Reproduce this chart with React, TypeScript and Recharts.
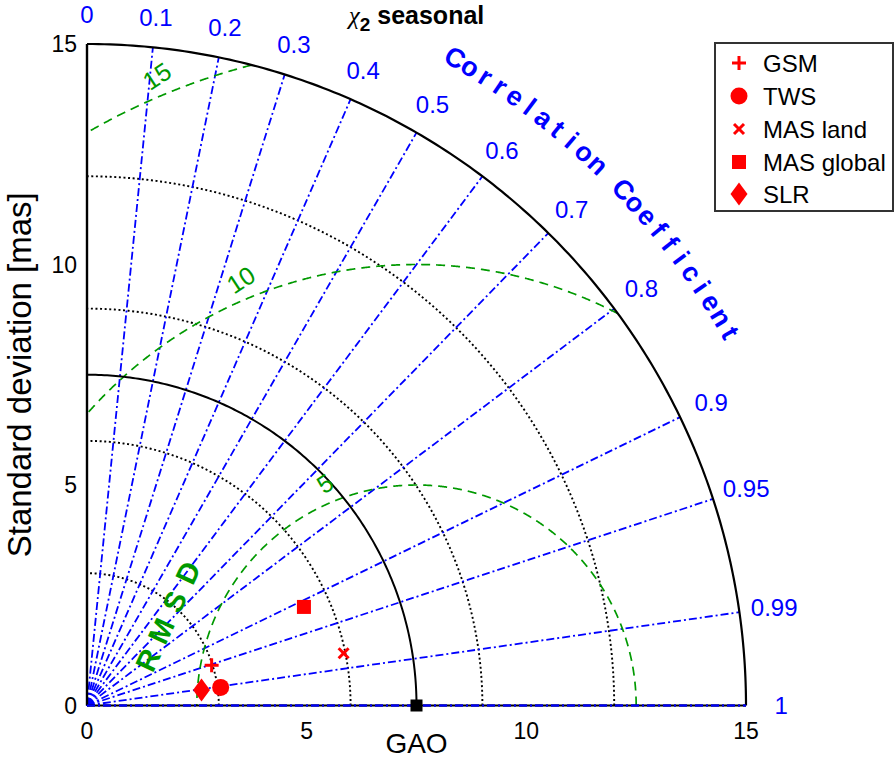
import React from "react";
import { ScatterChart, Scatter, XAxis, YAxis, ReferenceDot } from "recharts";

const W = 896;
const H = 759;
const FONT = "'Liberation Sans', Arial, sans-serif";
const BLUE = "#0000ff";
const GREEN = "#009900";
const RED = "#ff0000";

// correlation grid
const corrTicks = [0, 0.1, 0.2, 0.3, 0.4, 0.5, 0.6, 0.7, 0.8, 0.9, 0.95, 0.99, 1];
const corrLabels = ["0", "0.1", "0.2", "0.3", "0.4", "0.5", "0.6", "0.7", "0.8", "0.9", "0.95", "0.99", "1"];

// standard deviation grid
const stdTicks = [0, 5, 10, 15];
const stdMax = 15;
const refStd = 7.5;
const dottedRings = [3, 6, 9, 12];

// centred RMS difference circles
const rmsRings = [5, 10, 15];
const rmsLabels = ["5", "10", "15"];

// models
const modelNames = ["GSM", "TWS", "MAS land", "MAS global", "SLR"];
const modelStd = [2.98, 3.07, 5.96, 5.42, 2.63];
const modelCorr = [0.952, 0.991, 0.98, 0.911, 0.991];
const modelMarkers = ["plus", "circle", "cross", "square", "diamond"];

const clamp = (v: number) => Math.min(stdMax, Math.max(0, v));
const rad = (d: number) => (d * Math.PI) / 180;

const polar = (r: number, c: number) => ({
  x: clamp(r * c),
  y: clamp(r * Math.sqrt(Math.max(0, 1 - c * c))),
});

function stdArc(r: number) {
  const pts = [];
  for (let d = 0; d <= 90; d += 0.5) {
    pts.push({ x: clamp(r * Math.cos(rad(d))), y: clamp(r * Math.sin(rad(d))) });
  }
  return pts;
}

function rmsArc(r: number) {
  const pts = [];
  for (let d = 0; d <= 180; d += 0.1) {
    const x = refStd + r * Math.cos(rad(d));
    const y = r * Math.sin(rad(d));
    if (x >= 0 && x * x + y * y <= stdMax * stdMax) pts.push({ x, y: clamp(y) });
  }
  return pts;
}

const ray = (c: number) => [{ x: 0, y: 0 }, polar(stdMax, c)];

const Marker = ({ kind, cx, cy }: { kind: string; cx: number; cy: number }) => {
  switch (kind) {
    case "plus":
      return (
        <g stroke={RED} strokeWidth={3}>
          <line x1={cx - 7} y1={cy} x2={cx + 7} y2={cy} />
          <line x1={cx} y1={cy - 7} x2={cx} y2={cy + 7} />
        </g>
      );
    case "circle":
      return <circle cx={cx} cy={cy} r={8.5} fill={RED} />;
    case "cross":
      return (
        <g stroke={RED} strokeWidth={3}>
          <line x1={cx - 5} y1={cy - 5} x2={cx + 5} y2={cy + 5} />
          <line x1={cx - 5} y1={cy + 5} x2={cx + 5} y2={cy - 5} />
        </g>
      );
    case "square":
      return <rect x={cx - 7} y={cy - 7} width={14} height={14} fill={RED} />;
    case "diamond":
      return (
        <polygon
          points={`${cx},${cy - 11.5} ${cx + 8.5},${cy} ${cx},${cy + 11.5} ${cx - 8.5},${cy}`}
          fill={RED}
        />
      );
    default:
      return <rect x={cx - 6} y={cy - 6} width={12} height={12} fill="#000" />;
  }
};

const noDot = () => <g />;

const txt = (s: string, color: string, size: number, rot = 0, bold = false) => (p: any) =>
  (
    <text
      x={p.cx}
      y={p.cy}
      fill={color}
      fontSize={size}
      fontFamily={FONT}
      fontWeight={bold ? "bold" : "normal"}
      textAnchor="middle"
      dominantBaseline="central"
      transform={rot ? `rotate(${rot}, ${p.cx}, ${p.cy})` : undefined}
    >
      {s}
    </text>
  );

// label layout
const ccText = "Correlation Coefficient";
const ccR = 16.9;
const ccFrom = 60.3;
const ccTo = 30.0;
const rmsdText = "RMSD";
const rmsdFrom = { x: 1.39, y: 1.03 };
const rmsdTo = { x: 2.3, y: 3.01 };
const rmsLabelAngle = 112.5;

const dotted = { stroke: "#000", strokeWidth: 1.9, strokeDasharray: "2 2.6" };
const dashDot = { stroke: BLUE, strokeWidth: 1.8, strokeDasharray: "8 3 2 3" };
const dashed = { stroke: GREEN, strokeWidth: 1.7, strokeDasharray: "9 6" };

export default function App() {
  const legendRows = [63, 96, 129, 162, 194];
  return (
    <div style={{ position: "absolute", left: 0, top: 0, width: W, height: H, background: "#fff" }}>
      <ScatterChart width={W} height={H} margin={{ top: 44, right: 150, bottom: 0, left: 0 }}>
        <XAxis
          type="number"
          dataKey="x"
          domain={[0, 15]}
          ticks={stdTicks}
          axisLine={false}
          tickLine={false}
          tickSize={8}
          tickMargin={9}
          height={53.5}
          tick={{ fontSize: 23, fill: "#000", fontFamily: FONT }}
          label={{ value: "GAO", position: "insideBottom", offset: 6, fontSize: 28, fill: "#000", fontFamily: FONT }}
        />
        <YAxis
          type="number"
          dataKey="y"
          domain={[0, 15]}
          ticks={stdTicks}
          axisLine={false}
          tickLine={false}
          tickSize={4}
          tickMargin={6}
          width={87}
          tick={{ fontSize: 23, fill: "#000", fontFamily: FONT }}
          label={{
            value: "Standard deviation [mas]",
            angle: -90,
            position: "insideLeft",
            offset: 19,
            style: { textAnchor: "middle" },
            fontSize: 33,
            fill: "#000",
            fontFamily: FONT,
          }}
        />

        {dottedRings.map((r) => (
          <Scatter key={"d" + r} data={stdArc(r)} line={dotted} shape={noDot} isAnimationActive={false} />
        ))}

        {corrTicks.slice(1).map((c) => (
          <Scatter key={"c" + c} data={ray(c)} line={dashDot} shape={noDot} isAnimationActive={false} />
        ))}

        {rmsRings.map((r) => (
          <Scatter key={"r" + r} data={rmsArc(r)} line={dashed} shape={noDot} isAnimationActive={false} />
        ))}

        <Scatter data={stdArc(refStd)} line={{ stroke: "#000", strokeWidth: 2 }} shape={noDot} isAnimationActive={false} />
        <Scatter data={stdArc(stdMax)} line={{ stroke: "#000", strokeWidth: 2.2 }} shape={noDot} isAnimationActive={false} />
        <Scatter data={[{ x: 0, y: 0 }, { x: 0, y: stdMax }]} line={{ stroke: "#000", strokeWidth: 2.4 }} shape={noDot} isAnimationActive={false} />
        <Scatter data={[{ x: 0, y: 0 }, { x: stdMax, y: 0 }]} line={{ stroke: "#000", strokeWidth: 2.2 }} shape={noDot} isAnimationActive={false} />
        <Scatter data={ray(1)} line={dashDot} shape={noDot} isAnimationActive={false} />

        <Scatter
          data={[{ x: refStd, y: 0 }]}
          shape={(p: any) => <Marker kind="ref" cx={p.cx} cy={p.cy} />}
          isAnimationActive={false}
        />
        {modelNames.map((n, i) => (
          <Scatter
            key={n}
            name={n}
            data={[polar(modelStd[i], modelCorr[i])]}
            shape={(p: any) => <Marker kind={modelMarkers[i]} cx={p.cx} cy={p.cy} />}
            isAnimationActive={false}
          />
        ))}

        {corrTicks.map((c, i) => {
          const r = 15.66 + 0.14 * c;
          return (
            <ReferenceDot
              key={"cl" + i}
              x={r * c}
              y={r * Math.sqrt(1 - c * c)}
              ifOverflow="visible"
              shape={txt(corrLabels[i], BLUE, 24)}
            />
          );
        })}

        {ccText.split("").map((ch, i) => {
          const a = ccFrom + ((ccTo - ccFrom) * i) / (ccText.length - 1);
          return (
            <ReferenceDot
              key={"cc" + i}
              x={ccR * Math.cos(rad(a))}
              y={ccR * Math.sin(rad(a))}
              ifOverflow="visible"
              shape={txt(ch, BLUE, 27, 90 - a, true)}
            />
          );
        })}

        {rmsdText.split("").map((ch, i) => {
          const t = i / (rmsdText.length - 1);
          return (
            <ReferenceDot
              key={"rm" + i}
              x={rmsdFrom.x + (rmsdTo.x - rmsdFrom.x) * t}
              y={rmsdFrom.y + (rmsdTo.y - rmsdFrom.y) * t}
              ifOverflow="visible"
              shape={txt(ch, GREEN, 29, -65, true)}
            />
          );
        })}

        {rmsRings.map((r, i) => (
          <ReferenceDot
            key={"rl" + r}
            x={refStd + (r + 0.45) * Math.cos(rad(rmsLabelAngle))}
            y={(r + 0.45) * Math.sin(rad(rmsLabelAngle))}
            ifOverflow="visible"
            shape={txt(rmsLabels[i], GREEN, 25, -33)}
          />
        ))}
      </ScatterChart>

      <svg width={W} height={H} style={{ position: "absolute", left: 0, top: 0, pointerEvents: "none" }}>
        <text x={416.5} y={24} textAnchor="middle" fontFamily={FONT} fontSize={25} fontWeight="bold">
          <tspan fontFamily="'Liberation Serif', serif" fontStyle="italic" fontWeight="normal" fontSize={25}>χ</tspan>
          <tspan fontSize={19} dy={7}>2</tspan>
          <tspan dy={-7}>{"\u00a0seasonal"}</tspan>
        </text>

        <rect x={715} y={43} width={178} height={168} fill="#fff" stroke="#333" strokeWidth={2} />
        {modelNames.map((n, i) => (
          <g key={n}>
            <Marker kind={modelMarkers[i]} cx={739} cy={legendRows[i]} />
            <text x={763} y={legendRows[i]} fontFamily={FONT} fontSize={24} dominantBaseline="central" fill="#000">
              {n}
            </text>
          </g>
        ))}
      </svg>
    </div>
  );
}
